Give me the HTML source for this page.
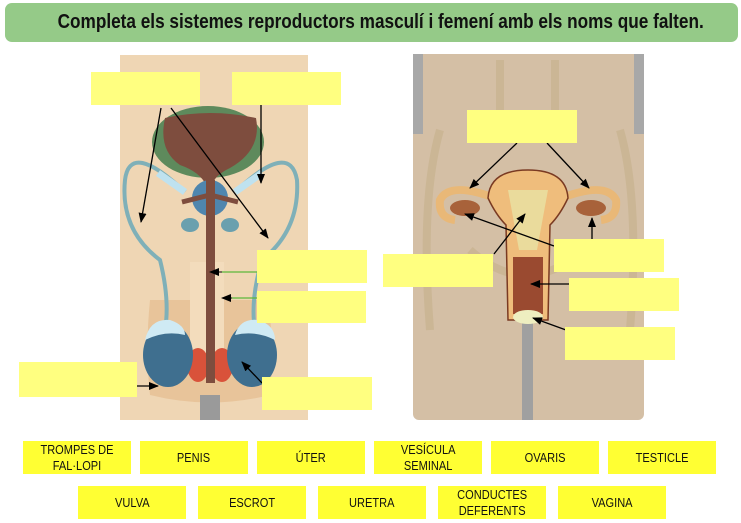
<!DOCTYPE html>
<html><head><meta charset="utf-8"><style>
body{margin:0;width:741px;height:523px;background:#fff;overflow:hidden;font-family:"Liberation Sans",sans-serif}
.t{position:absolute;left:5px;top:3px;width:733px;height:39px;background:#95ca88;border-radius:7px;text-align:center;line-height:39px;font-size:20px;font-weight:bold;color:#111}
.t span{display:inline-block;transform:scaleX(0.86);white-space:nowrap}
.b{position:absolute;width:108px;height:33px;background:#ffff33;display:flex;align-items:center;justify-content:center;text-align:center;font-size:13px;line-height:16px;color:#111}
.b span{display:inline-block;transform:scaleX(0.85)}
.a{position:absolute;background:#ffff80}
</style></head><body>
<div class="t"><span>Completa els sistemes reproductors masculí i femení amb els noms que falten.</span></div>
<svg width="741" height="523" style="position:absolute;left:0;top:0">
<defs><marker id="m" markerWidth="10" markerHeight="8" refX="9" refY="4" orient="auto" markerUnits="userSpaceOnUse"><path d="M0,0L10,4L0,8z" fill="#000"/></marker></defs>
<!-- male -->
<rect x="120" y="55" width="188" height="365" fill="#efd6b4"/>
<path d="M150 300 Q145 350 150 395 Q210 410 270 395 Q275 350 268 300" fill="#e8c49a"/>
<rect x="200" y="395" width="20" height="25" fill="#9a9a9a"/>
<ellipse cx="208" cy="142" rx="56" ry="36" fill="#5e8a5c"/>
<path d="M165 118 Q210 108 256 118 Q262 150 230 168 Q215 175 212 185 L206 185 Q200 172 180 165 Q158 150 165 118z" fill="#7e4d3e"/>
<path d="M185 192 Q130 140 125 180 Q120 230 160 260 Q170 300 165 330" stroke="#7fb0b8" stroke-width="4" fill="none"/>
<path d="M235 192 Q290 140 297 180 Q300 230 262 260 Q250 300 255 330" stroke="#7fb0b8" stroke-width="4" fill="none"/>
<path d="M158 173 L185 192 M262 173 L235 192" stroke="#bfe2ef" stroke-width="7"/>
<circle cx="210" cy="198" r="18" fill="#4f86ae"/>
<ellipse cx="190" cy="225" rx="9" ry="7" fill="#6aa0ae"/><ellipse cx="230" cy="225" rx="9" ry="7" fill="#6aa0ae"/>
<rect x="190" y="262" width="34" height="108" fill="#f3dcbc"/>
<path d="M182 202 L210 195 L238 202" stroke="#7e4d3e" stroke-width="5" fill="none"/>
<rect x="206" y="180" width="9" height="200" fill="#7e4d3e"/>
<ellipse cx="198" cy="365" rx="11" ry="17" fill="#d9523a"/><ellipse cx="222" cy="365" rx="11" ry="17" fill="#d9523a"/>
<rect x="206" y="345" width="9" height="38" fill="#7e4d3e"/>
<ellipse cx="168" cy="355" rx="25" ry="32" fill="#3f6f8f"/><ellipse cx="252" cy="355" rx="25" ry="32" fill="#3f6f8f"/>
<path d="M145 340 Q150 318 170 320 Q185 325 185 335 Q165 330 145 340z" fill="#cfeaf4"/>
<path d="M235 335 Q240 318 258 320 Q275 325 275 340 Q255 330 235 335z" fill="#cfeaf4"/>
<!-- female -->
<rect x="413" y="54" width="231" height="366" rx="6" fill="#d4bfa5"/>
<rect x="413" y="54" width="10" height="80" fill="#a8a8a8"/><rect x="634" y="54" width="10" height="80" fill="#a8a8a8"/>
<path d="M440 130 Q420 200 430 330 M620 130 Q640 200 630 330 M470 250 Q525 300 585 250 M500 60 L500 130 M555 60 L555 130" stroke="#c4b08a" stroke-width="8" fill="none" opacity=".6"/>
<rect x="522" y="322" width="11" height="98" fill="#a0a0a0"/>
<path d="M500 200 Q450 180 440 200 Q438 218 455 220 M556 200 Q606 180 616 200 Q618 218 601 220" stroke="#e9b877" stroke-width="8" fill="none"/>
<path d="M488 198 Q490 170 528 170 Q566 170 568 198 Q560 215 550 225 L548 320 L508 320 L506 225 Q496 215 488 198z" fill="#efbd7c" stroke="#7a3a22" stroke-width="1.5"/>
<path d="M508 190 L548 190 L537 250 L519 250z" fill="#eadb9c"/>
<rect x="513" y="257" width="30" height="57" fill="#9a4a30"/>
<ellipse cx="465" cy="208" rx="15" ry="8" fill="#a8623a"/><ellipse cx="591" cy="208" rx="15" ry="8" fill="#a8623a"/>
<ellipse cx="528" cy="317" rx="15" ry="7" fill="#eeeec0"/>
<!-- arrows -->
<g stroke="#000" stroke-width="1.3" marker-end="url(#m)">
<line x1="161" y1="108" x2="141" y2="222"/><line x1="171" y1="108" x2="268" y2="238"/><line x1="261" y1="105" x2="261" y2="183"/>
<line x1="137" y1="386" x2="158" y2="386"/><line x1="262" y1="383" x2="242" y2="362"/>
<line x1="517" y1="143" x2="470" y2="188"/><line x1="547" y1="143" x2="589" y2="188"/>
<line x1="554" y1="246" x2="465" y2="214"/><line x1="592" y1="239" x2="592" y2="218"/>
<line x1="494" y1="254" x2="525" y2="214"/><line x1="569" y1="284" x2="531" y2="284"/><line x1="566" y1="330" x2="533" y2="318"/>
</g>
<g stroke="#5cb83a" stroke-width="1.3"><line x1="257" y1="272" x2="222" y2="272"/><line x1="257" y1="298" x2="232" y2="298"/></g>
<g marker-end="url(#m)" stroke="#000" stroke-width="1"><line x1="222" y1="272" x2="210" y2="272"/><line x1="232" y1="298" x2="222" y2="298"/></g>
</svg>
<div class="a" style="left:91px;top:72px;width:109px;height:33px"></div>
<div class="a" style="left:232px;top:72px;width:109px;height:33px"></div>
<div class="a" style="left:257px;top:250px;width:110px;height:33px"></div>
<div class="a" style="left:257px;top:291px;width:109px;height:32px"></div>
<div class="a" style="left:19px;top:362px;width:118px;height:35px"></div>
<div class="a" style="left:262px;top:377px;width:110px;height:33px"></div>
<div class="a" style="left:467px;top:110px;width:110px;height:33px"></div>
<div class="a" style="left:383px;top:254px;width:110px;height:33px"></div>
<div class="a" style="left:554px;top:239px;width:110px;height:33px"></div>
<div class="a" style="left:569px;top:278px;width:110px;height:33px"></div>
<div class="a" style="left:565px;top:327px;width:110px;height:33px"></div>
<div class="b" style="left:23px;top:441px"><span>TROMPES DE<br>FAL·LOPI</span></div>
<div class="b" style="left:140px;top:441px"><span>PENIS</span></div>
<div class="b" style="left:257px;top:441px"><span>ÚTER</span></div>
<div class="b" style="left:374px;top:441px"><span>VESÍCULA<br>SEMINAL</span></div>
<div class="b" style="left:491px;top:441px"><span>OVARIS</span></div>
<div class="b" style="left:608px;top:441px"><span>TESTICLE</span></div>
<div class="b" style="left:78px;top:486px"><span>VULVA</span></div>
<div class="b" style="left:198px;top:486px"><span>ESCROT</span></div>
<div class="b" style="left:318px;top:486px"><span>URETRA</span></div>
<div class="b" style="left:438px;top:486px"><span>CONDUCTES<br>DEFERENTS</span></div>
<div class="b" style="left:558px;top:486px"><span>VAGINA</span></div>
</body></html>
